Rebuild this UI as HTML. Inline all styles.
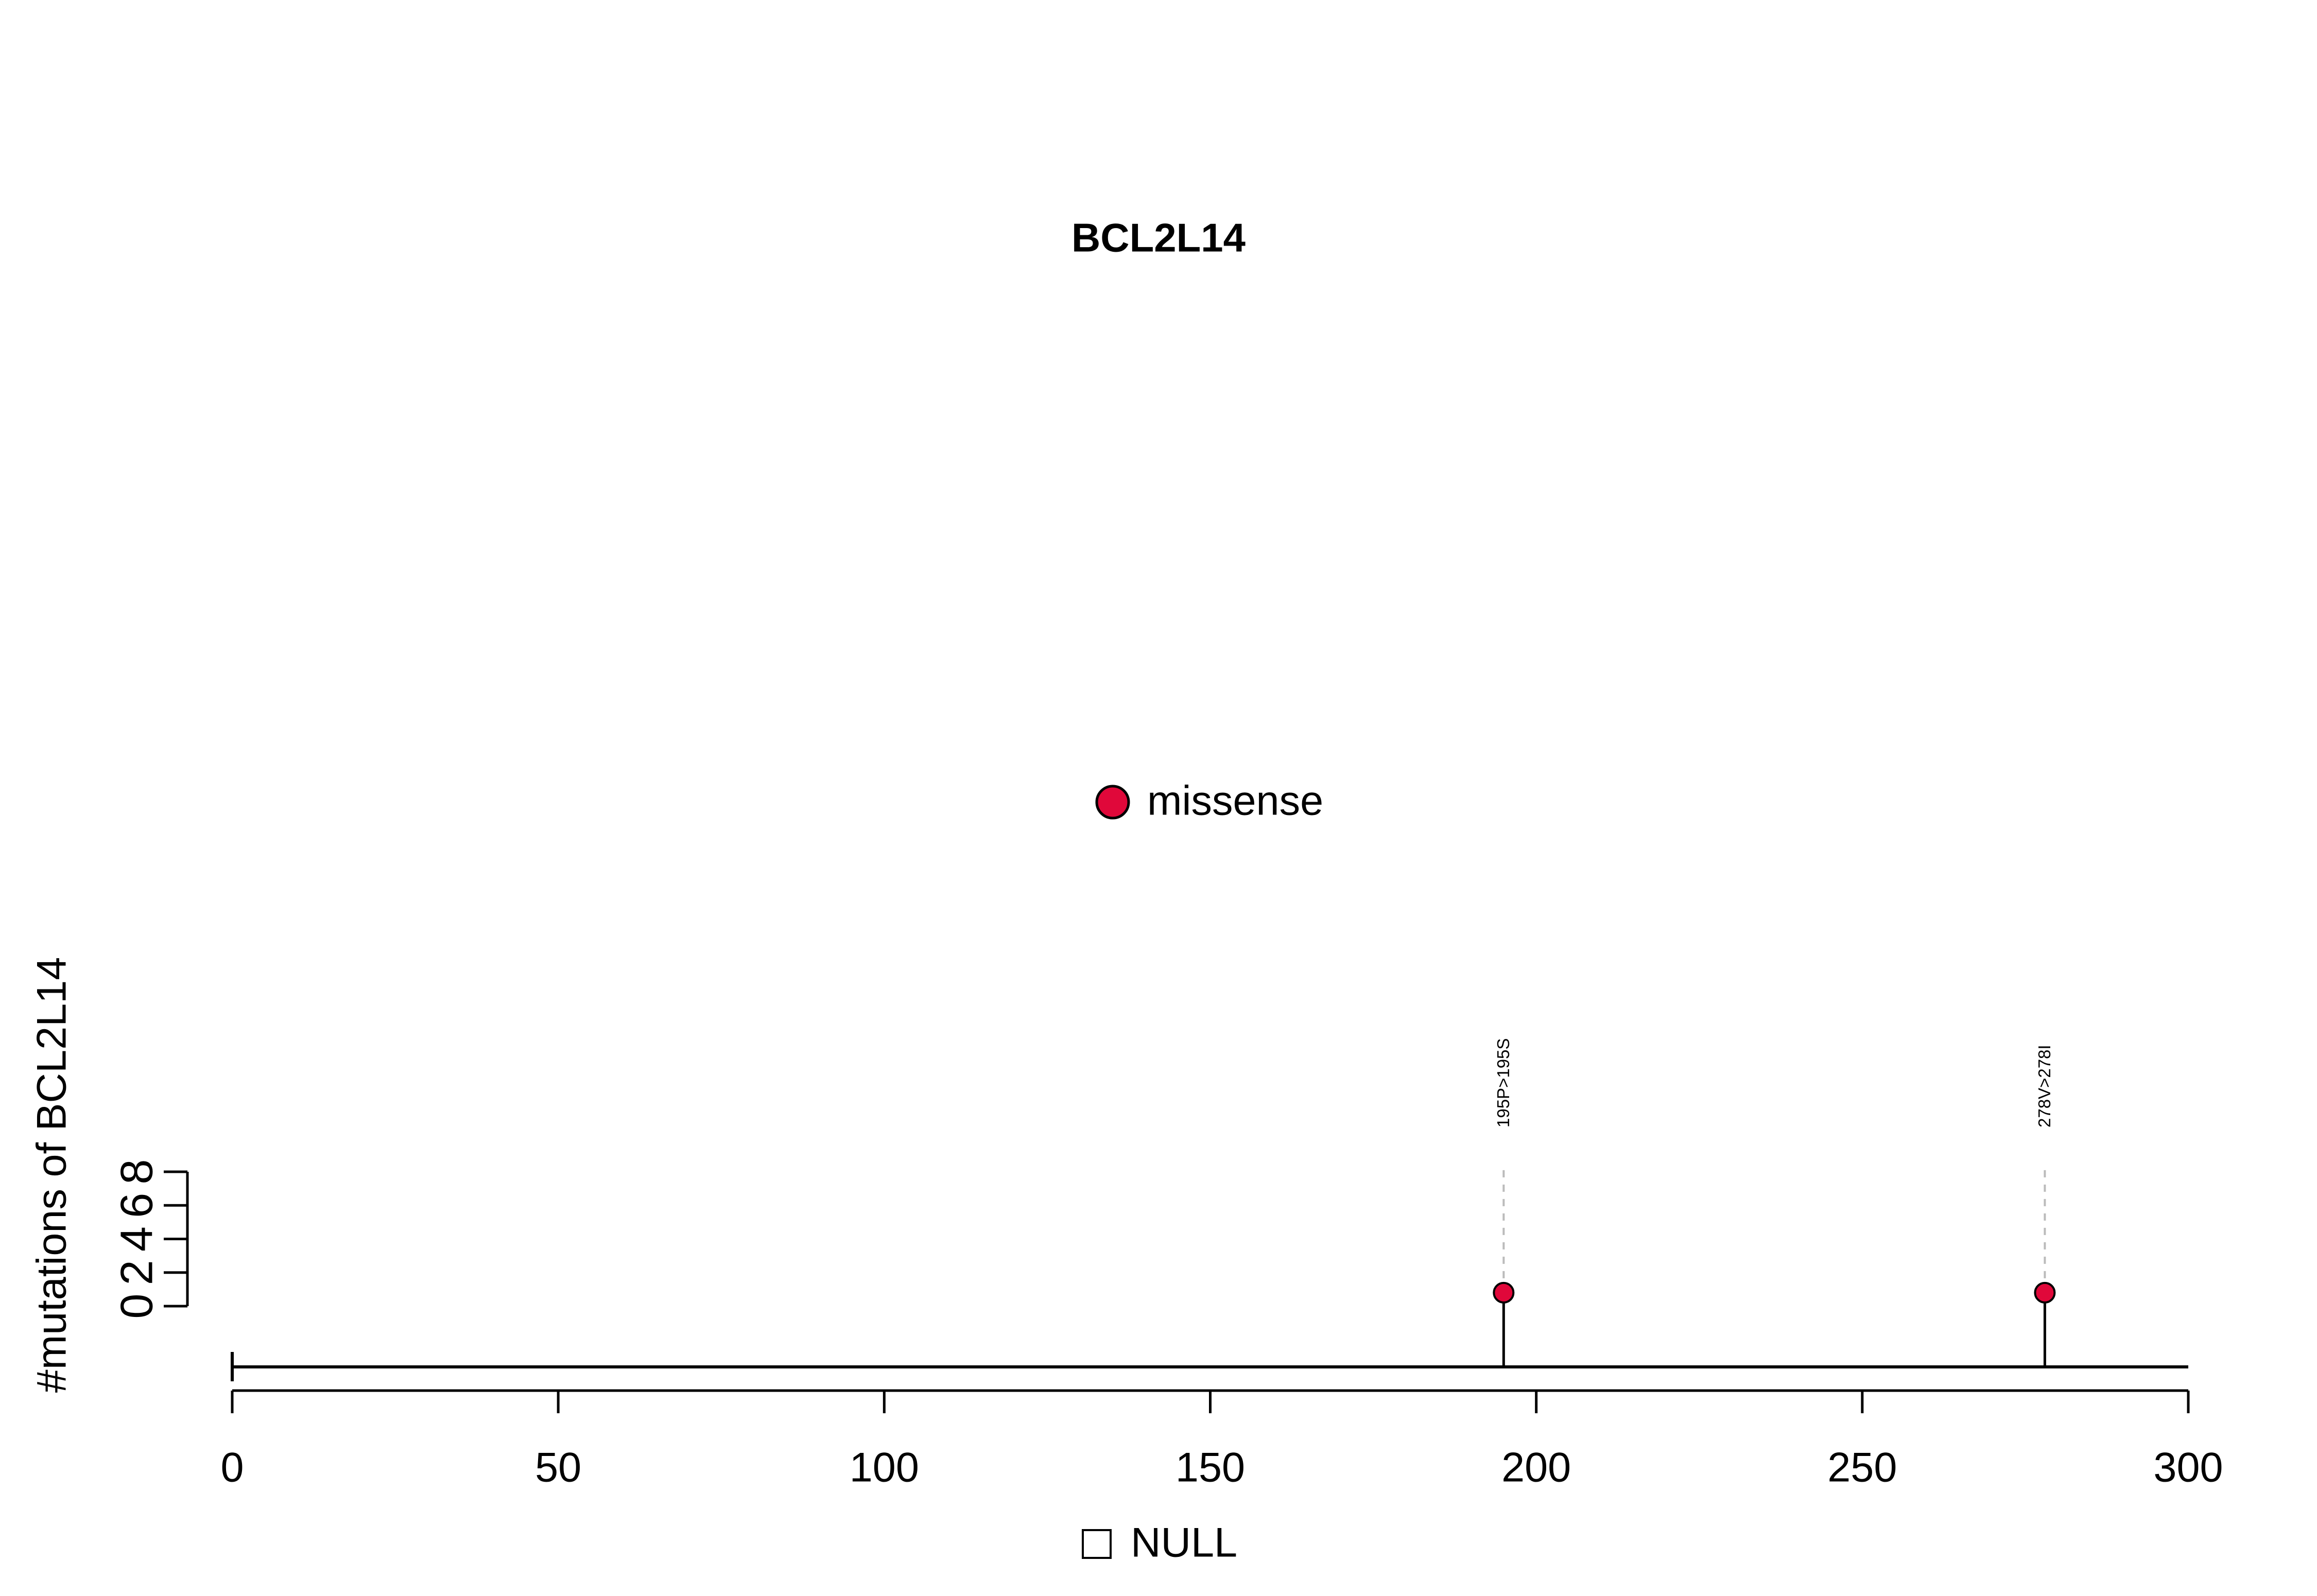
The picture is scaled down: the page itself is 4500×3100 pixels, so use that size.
<!DOCTYPE html>
<html><head><meta charset="utf-8"><style>
html,body{margin:0;padding:0;background:#fff;}
svg{display:block;font-family:"Liberation Sans",Arial,sans-serif;}
</style></head><body>
<svg id="chart" width="4500" height="3100" viewBox="0 0 4500 3100">
<text x="2250" y="468" font-size="78" font-weight="bold" text-anchor="middle" dominant-baseline="middle">BCL2L14</text>
<g>
<circle cx="2161" cy="1558" r="31" fill="#e0083a" stroke="#000" stroke-width="5"/>
<text x="2228" y="1561" font-size="81" dominant-baseline="middle">missense</text>
</g>
<text transform="translate(106,2282) rotate(-90)" font-size="81" text-anchor="middle" dominant-baseline="middle">#mutations of BCL2L14</text>
<g id="yaxis"></g>
<g id="xaxis"></g>
<line x1="451" y1="2655" x2="4250" y2="2655" stroke="#000" stroke-width="6"/>
<line x1="451" y1="2626" x2="451" y2="2683" stroke="#000" stroke-width="6"/>
<g id="marks"></g>
<g>
<rect x="2103" y="2972" width="54" height="54" fill="none" stroke="#000" stroke-width="4"/>
<text x="2196" y="3002" font-size="81" dominant-baseline="middle">NULL</text>
</g>
</svg>
<script>
const positions = [195, 278];
const heights = [0.8, 0.8];
const labels = ["195P>195S", "278V>278I"];
const xTicks = [0, 50, 100, 150, 200, 250, 300];
const yTicks = [0, 2, 4, 6, 8];
const NS = "http://www.w3.org/2000/svg";
function xs(v){ return 451 + (v - 0) / 300 * (4250 - 451); }
function ys(v){ return 2537 - v / 8 * (2537 - 2276); }
function mk(tag, attrs, parent){ const e = document.createElementNS(NS, tag); for (const k in attrs) e.setAttribute(k, attrs[k]); parent.appendChild(e); return e; }
const xa = document.getElementById('xaxis');
let l = mk('line', {x1: xs(xTicks[0]), x2: xs(xTicks[xTicks.length-1]), y1: 2701, y2: 2701, stroke: '#000', 'stroke-width': 5}, xa);


xTicks.forEach(t => {
  const tk = mk('line', {x1: xs(t), x2: xs(t), y1: 2701, y2: 2745, stroke: '#000', 'stroke-width': 5}, xa);
  
  
  const tx = mk('text', {x: xs(t), y: 2856, 'font-size': 81, 'text-anchor': 'middle', 'dominant-baseline': 'middle'}, xa);
  tx.textContent = t;
  
  
});
const ya = document.getElementById('yaxis');
l = mk('line', {x1: 364, x2: 364, y1: ys(yTicks[0]), y2: ys(yTicks[yTicks.length-1]), stroke: '#000', 'stroke-width': 5}, ya);


yTicks.forEach(t => {
  const tk = mk('line', {x1: 318, x2: 364, y1: ys(t), y2: ys(t), stroke: '#000', 'stroke-width': 5}, ya);
  
  
  const tx = mk('text', {transform: 'translate(272,' + ys(t) + ') rotate(-90)', 'font-size': 88, 'text-anchor': 'middle', 'dominant-baseline': 'middle'}, ya);
  tx.textContent = t;
  
  
});
const mg = document.getElementById('marks');
positions.forEach((p, i) => {
  const x = xs(p), y = ys(heights[i]);
  const st = mk('line', {x1: x, x2: x, y1: 2655, y2: y, stroke: '#000', 'stroke-width': 5}, mg);
  
  
  const ds = mk('line', {x1: x, x2: x, y1: y, y2: 2267, stroke: '#bbb', 'stroke-width': 4, 'stroke-dasharray': '14 14'}, mg);
  
  
  const c = mk('circle', {cx: x, cy: y, r: 19, fill: '#e0083a', stroke: '#000', 'stroke-width': 4}, mg);
  
  
  const tx = mk('text', {transform: 'translate(' + (x + 2) + ',2190) rotate(-90)', 'font-size': 33, 'text-anchor': 'start', 'dominant-baseline': 'middle'}, mg);
  tx.textContent = labels[i];
  
  
});
</script>
</body></html>
